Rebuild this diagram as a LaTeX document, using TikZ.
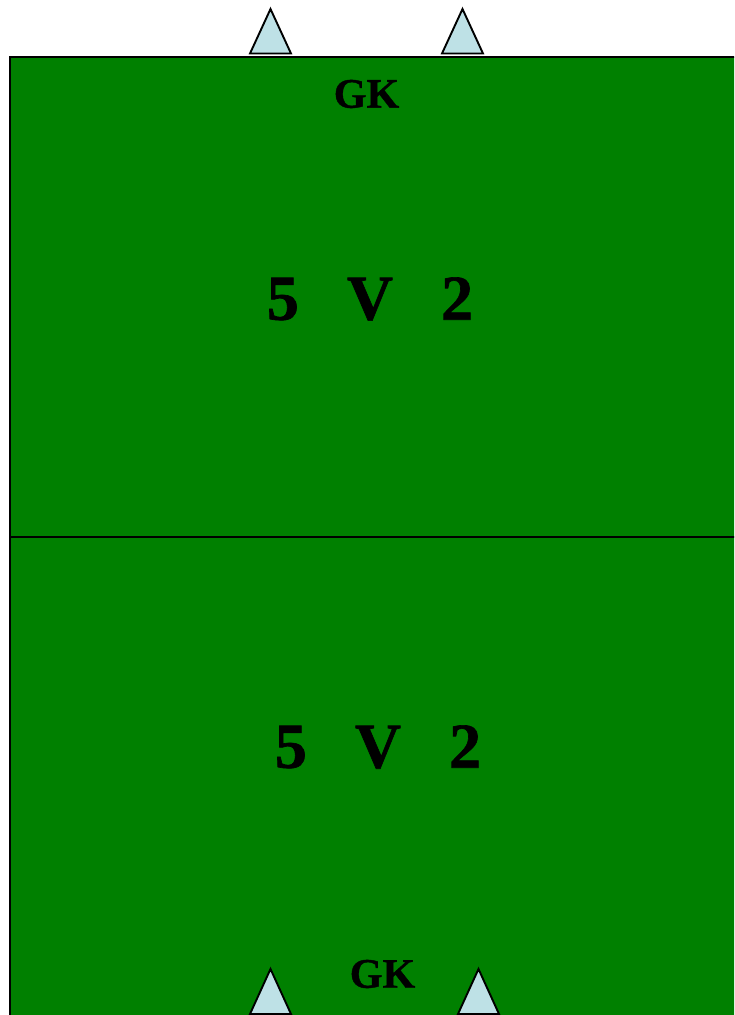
\documentclass[tikz,border=0pt]{standalone}
\usepackage{fontspec}
\setmainfont[BoldFeatures={FakeBold=1}]{Liberation Serif}
\definecolor{pitch}{RGB}{0,128,0}
\definecolor{cone}{RGB}{190,225,230}
\tikzset{
  x=1pt,y=-1pt,
  field/.style={draw=black,fill=pitch,line width=2.2pt},
  halfway/.style={draw=black,line width=2.2pt},
  conemark/.style={draw=black,fill=cone,line width=1.9pt,line join=miter},
  gklabel/.style={inner sep=0pt,anchor=center,text=black,font=\fontsize{42}{42}\selectfont\bfseries},
  scorelabel/.style={inner sep=0pt,anchor=center,text=black,font=\fontsize{64}{64}\selectfont\bfseries}
}
\begin{document}
\begin{tikzpicture}
\useasboundingbox (0,0) rectangle (734,1015);
\begin{scope}
\clip (0,0) rectangle (734,1015);
\draw[field] (10,57) rectangle (760,1040);
\draw[halfway] (10,537) -- (760,537);
\draw[conemark] (270.5,9) -- (291,53.5) -- (250,53.5) -- cycle;
\draw[conemark] (462.5,9) -- (483,53.5) -- (442,53.5) -- cycle;
\draw[conemark] (270.5,969) -- (291,1014) -- (250,1014) -- cycle;
\draw[conemark] (478.5,969) -- (499,1014) -- (458,1014) -- cycle;
\end{scope}
\node[gklabel] (gktop) at (366.5,94) {GK};
\node[gklabel] (gkbottom) at (382.5,974) {GK};
\node[scorelabel] (scoretop) at (370,299) {5\ \ \ V\ \ \ 2};
\node[scorelabel] (scorebottom) at (378,747) {5\ \ \ V\ \ \ 2};
\end{tikzpicture}
\end{document}
